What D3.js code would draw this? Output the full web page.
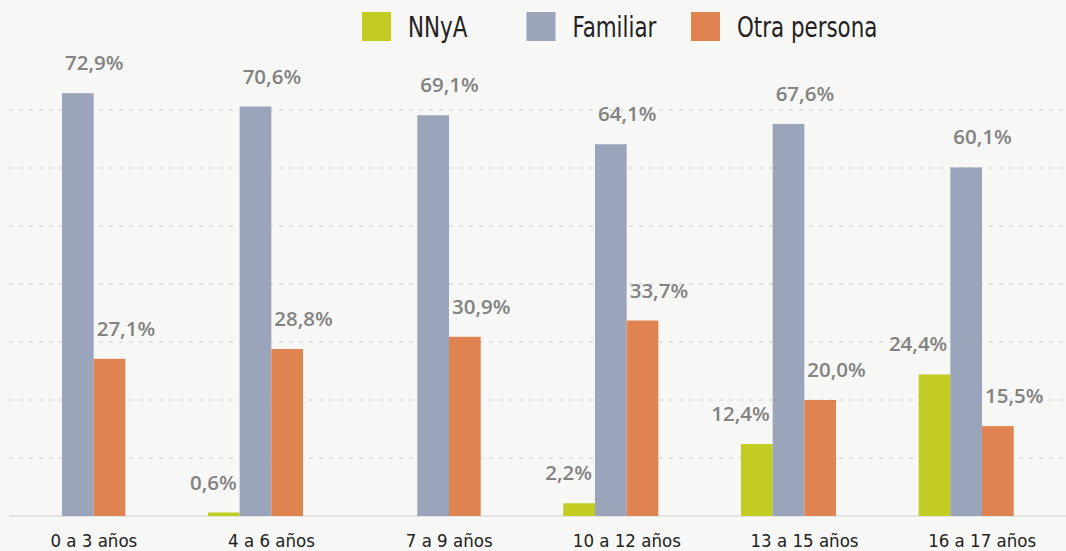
<!DOCTYPE html>
<html>
<head>
<meta charset="utf-8">
<script src="https://cdn.jsdelivr.net/npm/d3@7"></script>
<style>
  body { margin: 0; background: #f7f7f5; }
  svg { display: block; }
</style>
</head>
<body>
<svg id="chart"></svg>
<script>
// ====================================================================
// data
var categories = ["0 a 3 años", "4 a 6 años", "7 a 9 años", "10 a 12 años", "13 a 15 años", "16 a 17 años"];
var series = ["NNyA", "Familiar", "Otra persona"];
var nnya = [null, 0.6, null, 2.2, 12.4, 24.4];
var familiar = [72.9, 70.6, 69.1, 64.1, 67.6, 60.1];
var otra = [27.1, 28.8, 30.9, 33.7, 20.0, 15.5];
var grid_ticks = [10, 20, 30, 40, 50, 60, 70];
// ====================================================================

var width = 1066, height = 551;
var colors = { "NNyA": "#c3cc22", "Familiar": "#9aa4bb", "Otra persona": "#df8351" };
var str_label_color = "#828282";
var narrow_font = "'DejaVu Sans Condensed', 'Roboto', sans-serif";

var svg = d3.select("#chart")
  .attr("width", width)
  .attr("height", height);

svg.append("rect")
  .attr("width", width)
  .attr("height", height)
  .attr("fill", "#f7f7f5");

// table built from the arrays
var values_by_series = { "NNyA": nnya, "Familiar": familiar, "Otra persona": otra };
var rows = categories.map(function(c, i) {
  return { cat: c, items: series.map(function(s) { return { key: s, value: values_by_series[s][i] }; }) };
});

// scales
var x0 = d3.scaleBand()
  .domain(categories)
  .range([-11, 1055])
  .paddingInner(0.465)
  .paddingOuter(0.2325);

var x1 = d3.scaleBand()
  .domain(series)
  .range([0, x0.bandwidth()]);

var y = d3.scaleLinear()
  .domain([0, 80])
  .range([516, 52]);

// grid lines
svg.append("g")
  .attr("id", "grid")
  .selectAll("line")
  .data(grid_ticks)
  .enter()
  .append("line")
  .attr("x1", 9)
  .attr("x2", width)
  .attr("y1", function(d) { return y(d); })
  .attr("y2", function(d) { return y(d); })
  .attr("stroke", "#e2e2e0")
  .attr("stroke-width", 2)
  .attr("stroke-dasharray", "4,6");

// baseline + category labels
var x_axis = svg.append("g")
  .attr("transform", "translate(0," + y(0) + ")")
  .call(d3.axisBottom(x0).tickSize(0).tickPadding(0));

x_axis.select(".domain")
  .attr("d", "M9,0H" + width)
  .attr("stroke", "#e4e4e2")
  .attr("stroke-width", 2);

x_axis.selectAll(".tick text")
  .attr("dx", 16)
  .attr("y", 31)
  .attr("dy", 0)
  .style("font-family", narrow_font)
  .style("font-size", "18.5px")
  .style("fill", "#222");

// bars
var groups = svg.append("g")
  .attr("id", "bars")
  .selectAll("g")
  .data(rows)
  .enter()
  .append("g")
  .attr("transform", function(d) { return "translate(" + x0(d.cat) + ",0)"; });

var items = groups.selectAll("g")
  .data(function(d) { return d.items.filter(function(e) { return e.value != null; }); })
  .enter()
  .append("g");

items.append("rect")
  .attr("x", function(d) { return x1(d.key); })
  .attr("y", function(d) { return y(d.value); })
  .attr("width", x1.bandwidth())
  .attr("height", function(d) { return y(0) - y(d.value); })
  .attr("fill", function(d) { return colors[d.key]; });

// value labels: NNyA right aligned, others left aligned
items.append("text")
  .attr("x", function(d) {
    return d.key == "NNyA" ? x1(d.key) + x1.bandwidth() - 3 : x1(d.key) + 3;
  })
  .attr("y", function(d) { return y(d.value) - 23; })
  .attr("text-anchor", function(d) { return d.key == "NNyA" ? "end" : "start"; })
  .style("font-family", "'Open Sans', sans-serif")
  .style("font-weight", 600)
  .style("font-size", "20.5px")
  .style("fill", str_label_color)
  .text(function(d) { return d3.format(".1f")(d.value).replace(".", ",") + "%"; });

// legend
var legend = svg.append("g")
  .attr("id", "legend")
  .selectAll("g")
  .data(series)
  .enter()
  .append("g")
  .attr("transform", function(d, i) { return "translate(" + (362 + i * 164.5) + ",12)"; });

legend.append("rect")
  .attr("width", 29)
  .attr("height", 29)
  .attr("fill", function(d) { return colors[d]; });

// condensed look: squeeze the text horizontally
legend.append("text")
  .attr("transform", "translate(46,25) scale(0.85,1)")
  .style("font-family", narrow_font)
  .style("font-size", "28px")
  .style("fill", "#222")
  .text(function(d) { return d; });
</script>
</body>
</html>
